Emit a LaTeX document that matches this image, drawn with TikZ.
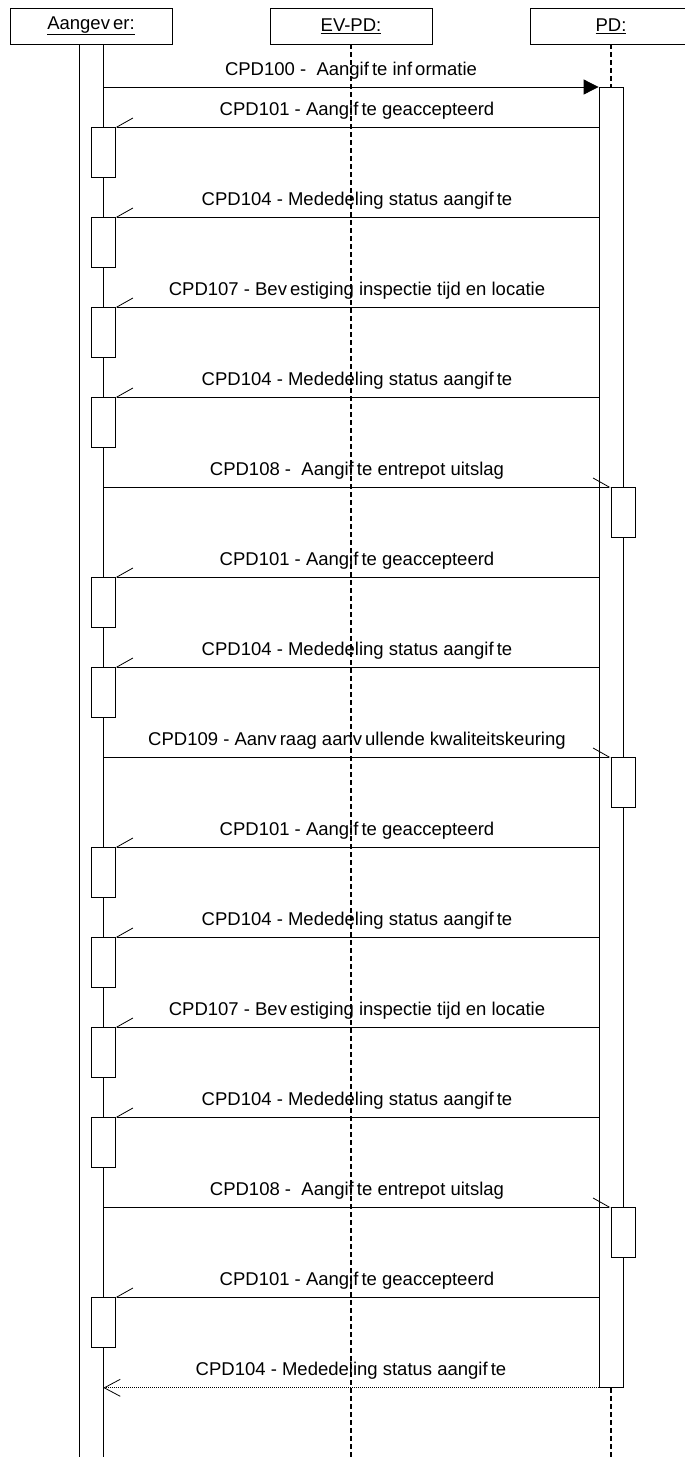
\documentclass[tikz,border=0pt]{standalone}
\usepackage{fontspec}
\setmainfont{Liberation Sans}
\usetikzlibrary{arrows.meta}

\tikzset{
  kop/.style={draw, line width=0.8pt, minimum width=162pt, minimum height=36pt, inner sep=0pt, font=\fontsize{18.5}{20}\selectfont},
  balk/.style={draw, fill=white, line width=0.8pt, minimum width=24pt, inner sep=0pt},
  activ/.style={draw, fill=white, line width=0.8pt, minimum width=24pt, minimum height=50pt, inner sep=0pt},
  levenslijn/.style={line width=1.6pt, dash pattern=on 5pt off 3pt},
  bericht/.style={line width=0.8pt},
  heen/.style={bericht, -{Straight Barb[harpoon, length=16pt, width=18pt]}},
  terug/.style={bericht, -{Straight Barb[harpoon, swap, length=16pt, width=18pt]}},
  tekst/.style={midway, anchor=base, yshift=12pt, inner sep=0pt, font=\fontsize{18.5}{20}\selectfont}
}

\begin{document}
\begin{tikzpicture}[x=1pt, y=-1pt]
    \clip (0,0) rectangle (685,1457);

    % Kopjes
    \node[kop] (aang) at (91,26) {\underline{Aangev\,er:}};
    \node[kop] (evpd) at (351,26) {\underline{EV-PD:}};
    \node[kop] (pd) at (611,26) {\underline{PD:}};

    % Levenslijnen
    \coordinate (evpdEind) at (351,1457);
    \coordinate (pdEind) at (611,1457);
    \draw[levenslijn] (evpd.south) -- (evpdEind);
    \draw[levenslijn] (pd.south) -- (pdEind);
    \node[balk, minimum height=1430pt, anchor=north] (aBalk) at (aang.south) {};
    \node[balk, minimum height=1300pt, anchor=north] (pBalk) at (611,87) {};

    % Activaties Aangever
    \node[activ, anchor=north] (a1) at (103,127) {};
    \node[activ, anchor=north] (a2) at (103,217) {};
    \node[activ, anchor=north] (a3) at (103,307) {};
    \node[activ, anchor=north] (a4) at (103,397) {};
    \node[activ, anchor=north] (a5) at (103,577) {};
    \node[activ, anchor=north] (a6) at (103,667) {};
    \node[activ, anchor=north] (a7) at (103,847) {};
    \node[activ, anchor=north] (a8) at (103,937) {};
    \node[activ, anchor=north] (a9) at (103,1027) {};
    \node[activ, anchor=north] (a10) at (103,1117) {};
    \node[activ, anchor=north] (a11) at (103,1297) {};

    % Activaties PD
    \node[activ, anchor=north] (p1) at (623,487) {};
    \node[activ, anchor=north] (p2) at (623,757) {};
    \node[activ, anchor=north] (p3) at (623,1207) {};

    % Berichten
    \draw[bericht, -{Triangle[length=15pt, width=15pt]}] (aBalk.east |- pBalk.north) -- (pBalk.north west)
        node[tekst] (t1) {CPD100 -\ \ Aangif\,te inf\,ormatie};
    \draw[terug] (pBalk.west |- a1.north) -- (a1.north east) node[tekst] (t2) {CPD101 - Aangif\,te geaccepteerd};
    \draw[terug] (pBalk.west |- a2.north) -- (a2.north east) node[tekst] (t3) {CPD104 - Mededeling status aangif\,te};
    \draw[terug] (pBalk.west |- a3.north) -- (a3.north east) node[tekst] (t4) {CPD107 - Bev\,estiging inspectie tijd en locatie};
    \draw[terug] (pBalk.west |- a4.north) -- (a4.north east) node[tekst] (t5) {CPD104 - Mededeling status aangif\,te};
    \draw[heen] (aBalk.east |- p1.north) -- (p1.north west) node[tekst] (t6) {CPD108 -\ \ Aangif\,te entrepot uitslag};
    \draw[terug] (pBalk.west |- a5.north) -- (a5.north east) node[tekst] (t7) {CPD101 - Aangif\,te geaccepteerd};
    \draw[terug] (pBalk.west |- a6.north) -- (a6.north east) node[tekst] (t8) {CPD104 - Mededeling status aangif\,te};
    \draw[heen] (aBalk.east |- p2.north) -- (p2.north west) node[tekst] (t9) {CPD109 - Aanv\,raag aanv\,ullende kwaliteitskeuring};
    \draw[terug] (pBalk.west |- a7.north) -- (a7.north east) node[tekst] (t10) {CPD101 - Aangif\,te geaccepteerd};
    \draw[terug] (pBalk.west |- a8.north) -- (a8.north east) node[tekst] (t11) {CPD104 - Mededeling status aangif\,te};
    \draw[terug] (pBalk.west |- a9.north) -- (a9.north east) node[tekst] (t12) {CPD107 - Bev\,estiging inspectie tijd en locatie};
    \draw[terug] (pBalk.west |- a10.north) -- (a10.north east) node[tekst] (t13) {CPD104 - Mededeling status aangif\,te};
    \draw[heen] (aBalk.east |- p3.north) -- (p3.north west) node[tekst] (t14) {CPD108 -\ \ Aangif\,te entrepot uitslag};
    \draw[terug] (pBalk.west |- a11.north) -- (a11.north east) node[tekst] (t15) {CPD101 - Aangif\,te geaccepteerd};

    % Antwoord (gestippeld)
    \draw[bericht, dash pattern=on 1pt off 1pt, -{Straight Barb[length=16pt, width=17pt]}] (pBalk.south west) -- (aBalk.east |- pBalk.south)
        node[tekst] (t16) {CPD104 - Mededeling status aangif\,te};
\end{tikzpicture}
\end{document}
